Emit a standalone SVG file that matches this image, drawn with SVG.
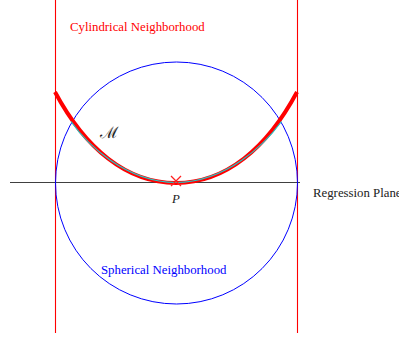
<svg xmlns="http://www.w3.org/2000/svg" width="399" height="339" viewBox="0 0 399 339">
<style>
.lbl{font-family:"Liberation Serif","Times New Roman",serif;font-size:12.8px}
.red{fill:#ff0000}
.blue{fill:#0000ff}
</style>
<rect width="399" height="339" fill="#ffffff"/>
<g id="connectors">
<line x1="55.5" y1="0" x2="55.5" y2="333" stroke="#ff0000" stroke-width="1.1"/>
<line x1="297.5" y1="0" x2="297.5" y2="333" stroke="#ff0000" stroke-width="1.1"/>
<line x1="10" y1="182.5" x2="300" y2="182.5" stroke="#404040" stroke-width="1.2"/>
</g>
<g id="sphere">
<circle cx="176.5" cy="183" r="121" fill="none" stroke="#0000ff" stroke-width="1"/>
<text class="lbl blue" x="101" y="274">Spherical Neighborhood</text>
</g>
<g id="cylinder">
<text class="lbl red" x="70" y="31">Cylindrical Neighborhood</text>
</g>
<g id="manifold">
<path d="M55,92 C85,148 126,183 176,183 C226,183 267,148 297,92" fill="none" stroke="#ff0000" stroke-width="4"/>
<path d="M71,121.5 C87,144 125,182 176,182.5 C227,182 265,144 281.5,121.5" fill="none" stroke="#20c8c8" stroke-width="1.2"/>
<text x="100" y="138" font-family="DejaVu Serif, serif" font-size="16" fill="#222">ℳ</text>
</g>
<g id="P">
<path d="M171,176 L181,186 M181,176 L171,186" stroke="#ff2020" stroke-width="1.3"/>
<text class="lbl" x="172" y="203" font-style="italic" font-size="14" fill="#222">P</text>
</g>
<g id="plane">
<text class="lbl" x="313" y="197" fill="#222">Regression Plane</text>
</g>
</svg>
